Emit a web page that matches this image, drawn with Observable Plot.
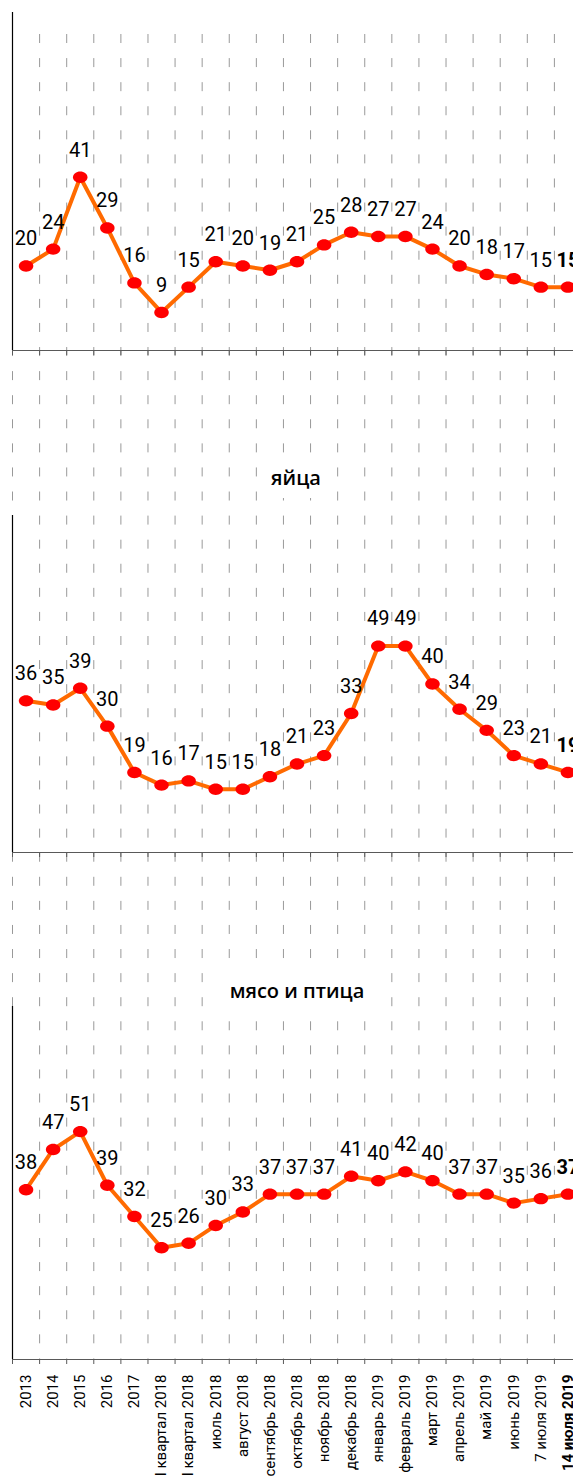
<!DOCTYPE html>
<html>
<head>
<meta charset="utf-8">
<script src="https://cdn.jsdelivr.net/npm/d3@7"></script>
<script src="https://cdn.jsdelivr.net/npm/@observablehq/plot@0.6"></script>
<style>
  html, body { margin: 0; padding: 0; background: #fff; }
  #wrap { position: relative; width: 573px; height: 1477px; overflow: hidden; background: #fff; }
  #wrap > svg, #wrap > figure { position: absolute; left: 0; margin: 0; }
  .ttl { position: absolute; background: #fff; font-family: "Open Sans", "Noto Sans", sans-serif;
         font-weight: 600; font-size: 20px; line-height: 24px; padding: 8px 5px; color: #000;
         transform: translate(-50%, -50%); white-space: nowrap; }
</style>
</head>
<body>
<div id="wrap"></div>
<script>
// ---- data ----
const categories = ["2013","2014","2015","2016","2017","I квартал 2018","II квартал 2018","июль 2018","август 2018","сентябрь 2018","октябрь 2018","ноябрь 2018","декабрь 2018","январь 2019","февраль 2019","март 2019","апрель 2019","май 2019","июнь 2019","7 июля 2019","14 июля 2019"];
const seriesTop = [20,24,41,29,16,9,15,21,20,19,21,25,28,27,27,24,20,18,17,15,15];
const seriesEggs = [36,35,39,30,19,16,17,15,15,18,21,23,33,49,49,40,34,29,23,21,19];
const seriesMeat = [38,47,51,39,32,25,26,30,33,37,37,37,41,40,42,40,37,37,35,36,37];
const titleEggs = "яйца";
const titleMeat = "мясо и птица";

const FONT = 'Roboto, "Liberation Sans", sans-serif';
const wrap = document.getElementById("wrap");
const n = categories.length;
const xScale = {domain: [0, n], range: [12, 581]};

const ellipse = {
  draw(ctx, size) {
    const r = Math.sqrt(size / Math.PI), rx = r * 1.17, ry = r * 0.92, k = 0.5523;
    ctx.moveTo(rx, 0);
    ctx.bezierCurveTo(rx, ry * k, rx * k, ry, 0, ry);
    ctx.bezierCurveTo(-rx * k, ry, -rx, ry * k, -rx, 0);
    ctx.bezierCurveTo(-rx, -ry * k, -rx * k, -ry, 0, -ry);
    ctx.bezierCurveTo(rx * k, -ry, rx, -ry * k, rx, 0);
    ctx.closePath();
  }
};

function place(el, top) { el.style.top = top + "px"; wrap.appendChild(el); }

// background dashed gridlines spanning all panels
place(Plot.plot({
  width: 573, height: 1477, marginTop: 34, marginBottom: 118, marginLeft: 12, marginRight: 0,
  x: {...xScale, axis: null},
  style: {background: "transparent"},
  marks: [Plot.ruleX(d3.range(0, n), {x: d => d, stroke: "#999999", strokeWidth: 1, strokeDasharray: "9,15.08"})]
}), 0);

function panel(values, {top, height, mt, mb, yMax, labels}) {
  const data = values.map((v, i) => ({x: i + 0.5, v, cat: categories[i]}));
  const marks = [
    Plot.ruleY([0], {stroke: "#595959", strokeWidth: 1}),
    Plot.ruleX(d3.range(0, n + 1), {x: d => d, y1: 0, y2: -5 / ((height - mt - mb) / yMax), stroke: "#595959"}),
    Plot.ruleX([0], {y1: 0, y2: yMax, stroke: "#000", strokeWidth: 1.2}),
    Plot.line(data, {x: "x", y: "v", stroke: "#ff6a00", strokeWidth: 4, curve: "linear"}),
    Plot.dot(data, {x: "x", y: "v", r: 6.2, fill: "#ff0000", stroke: "none", symbol: ellipse}),
    Plot.text(data.slice(0, -1), {x: "x", y: "v", text: d => String(d.v), dy: -27, fontSize: 20, fill: "#000"}),
    Plot.text(data.slice(-1), {x: "x", y: "v", text: d => String(d.v), dy: -27, fontSize: 20, fontWeight: "bold", fill: "#000"})
  ];
  if (labels) {
    marks.push(
      Plot.text(data.slice(0, -1), {x: "x", y: () => 0, text: "cat", rotate: -90, textAnchor: "end", dy: 15, fontSize: 15, fill: "#000"}),
      Plot.text(data.slice(-1), {x: "x", y: () => 0, text: "cat", rotate: -90, textAnchor: "end", dy: 15, fontSize: 15, fontWeight: "bold", fill: "#000"})
    );
  }
  place(Plot.plot({
    width: 573, height, marginTop: mt, marginBottom: mb, marginLeft: 12, marginRight: 0,
    x: {...xScale, axis: null},
    y: {domain: [0, yMax], axis: null},
    style: {background: "transparent", fontFamily: FONT, overflow: "visible"},
    marks
  }), top);
}

panel(seriesTop,  {top: 0,   height: 380, mt: 12, mb: 30,  yMax: 80});
panel(seriesEggs, {top: 500, height: 380, mt: 15, mb: 28,  yMax: 80});
panel(seriesMeat, {top: 990, height: 487, mt: 16, mb: 118, yMax: 79, labels: true});

function title(text, cx, cy) {
  const d = document.createElement("div");
  d.className = "ttl"; d.textContent = text;
  d.style.left = cx + "px"; d.style.top = cy + "px";
  wrap.appendChild(d);
}
title(titleEggs, 296, 478);
title(titleMeat, 297, 991);
</script>
</body>
</html>
